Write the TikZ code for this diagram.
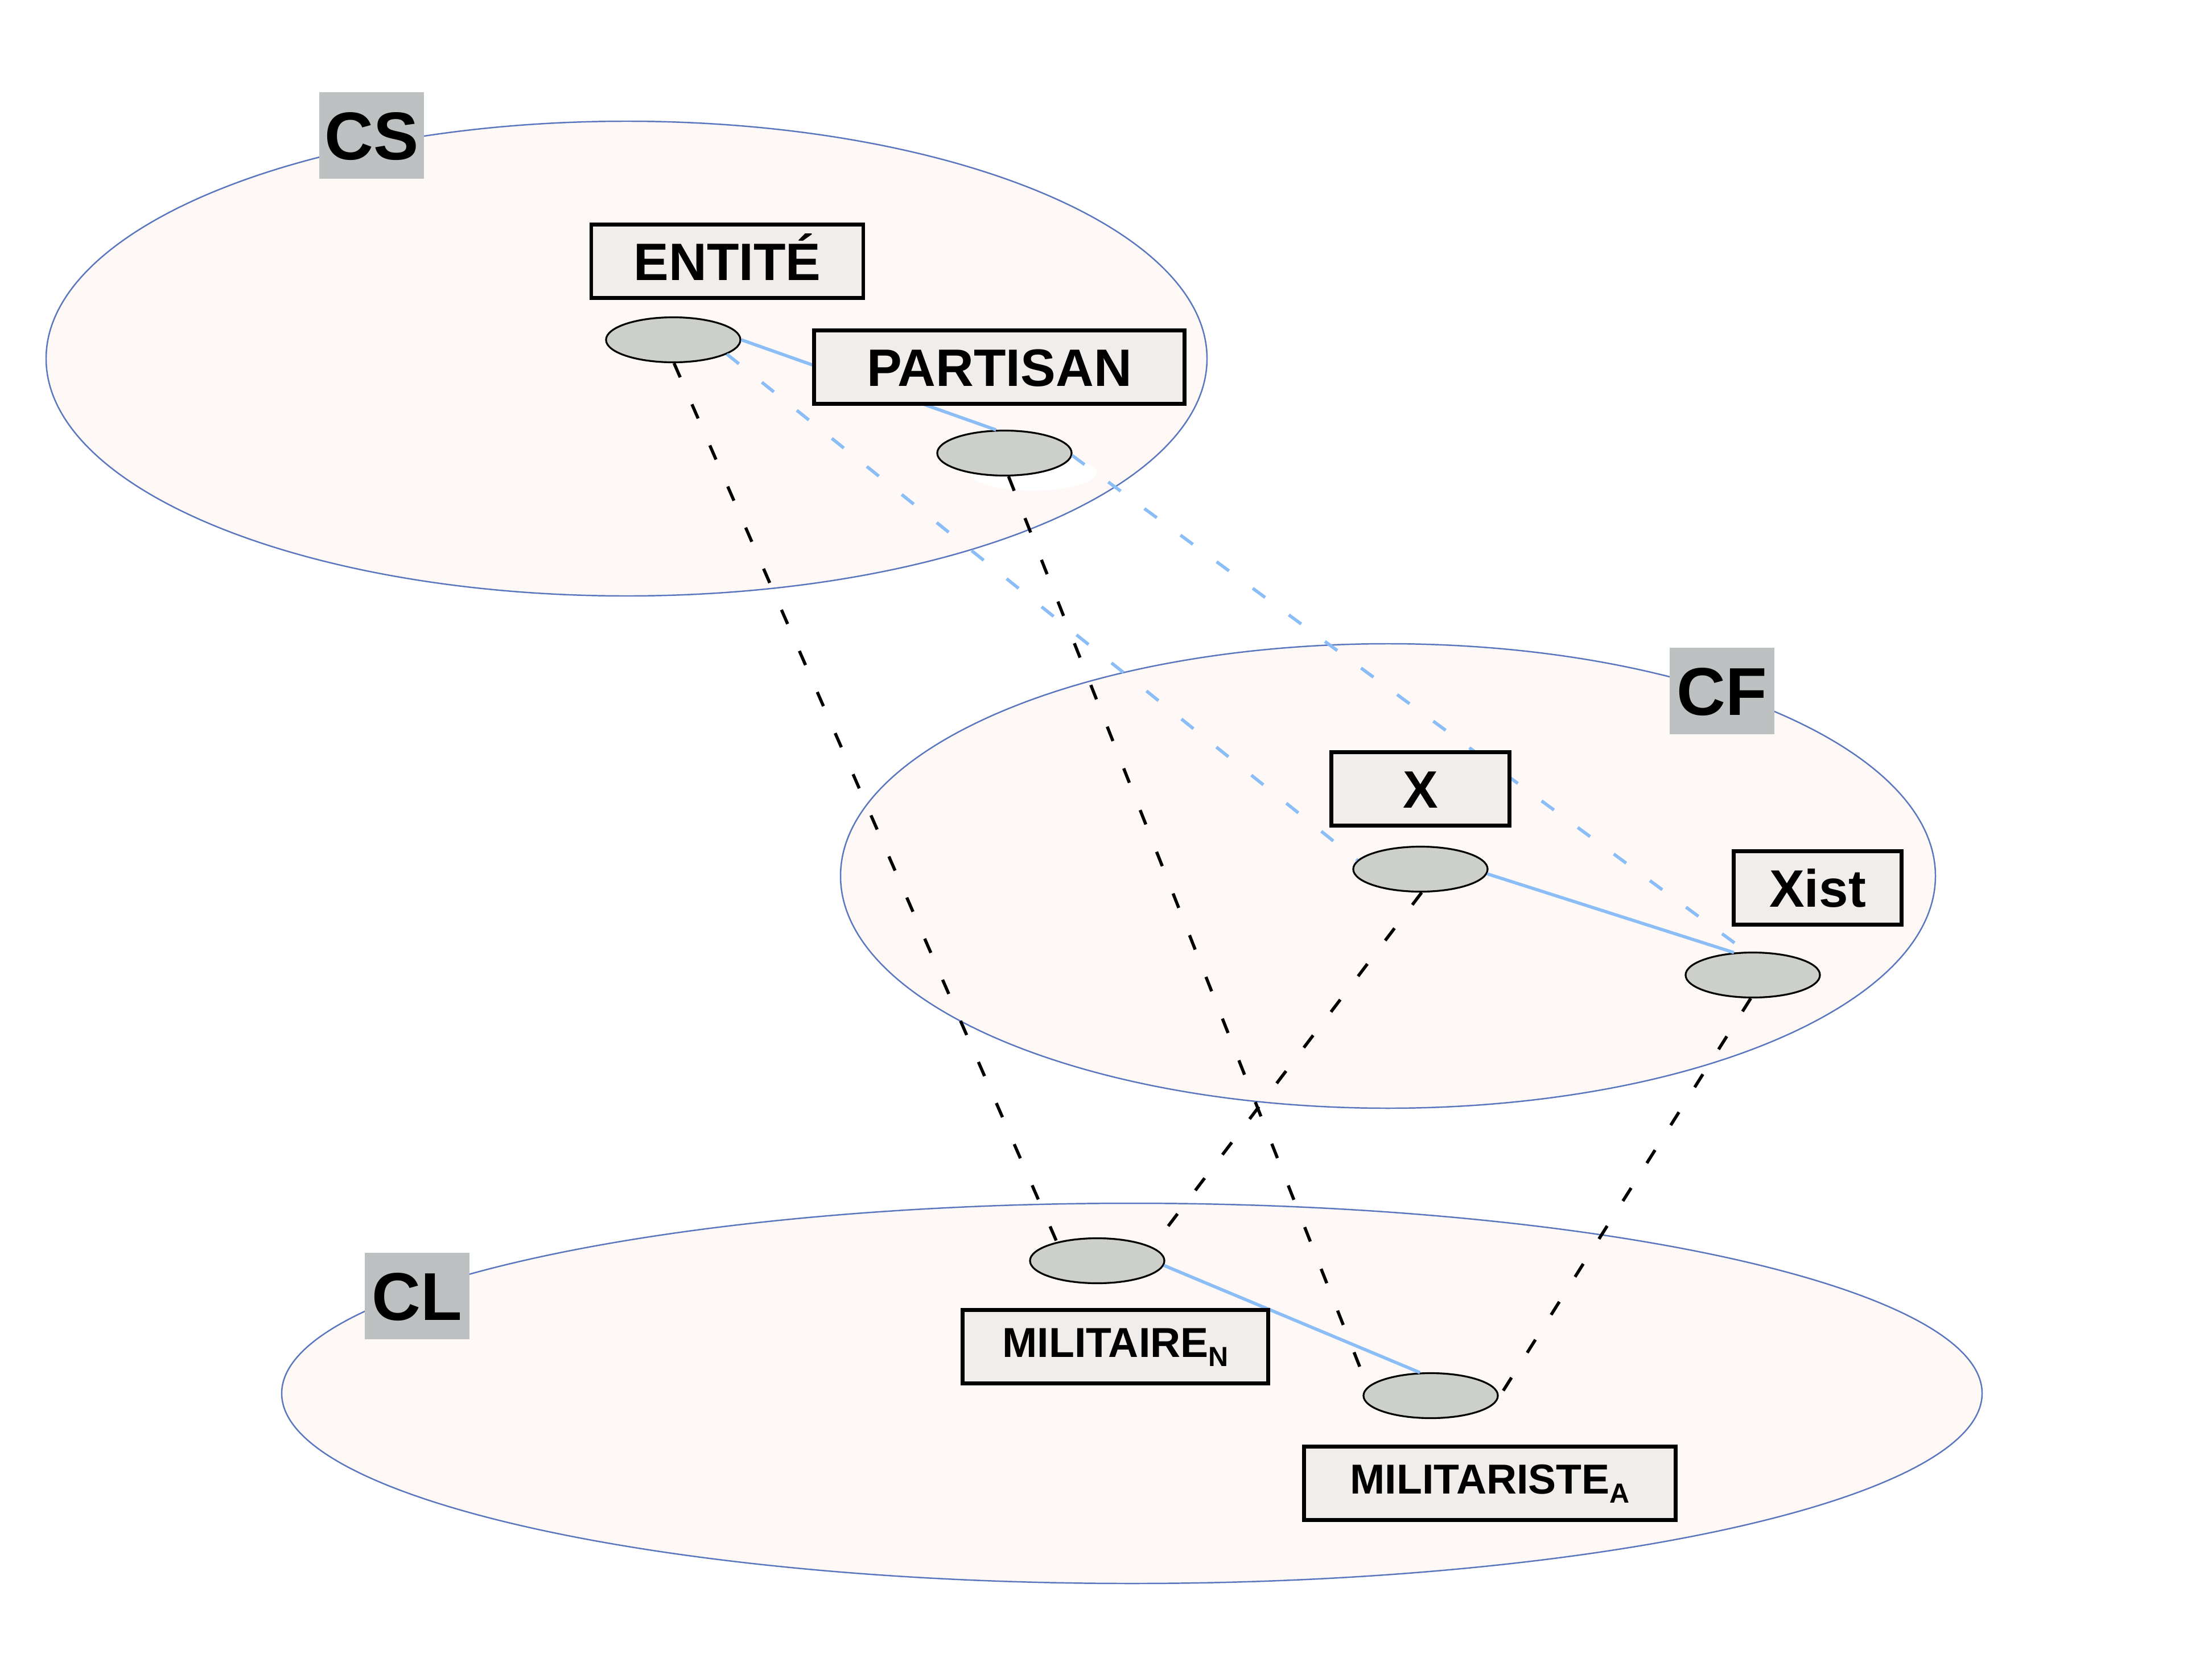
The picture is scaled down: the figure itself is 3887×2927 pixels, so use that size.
\documentclass[tikz,border=0pt]{standalone}
\usepackage{fontspec}
\setmainfont{Liberation Sans}
\usepackage{tikz}
\usetikzlibrary{shapes.geometric}
\definecolor{planeline}{RGB}{90,118,190}
\definecolor{planefill}{RGB}{254,248,246}
\definecolor{levelgrey}{RGB}{190,193,194}
\definecolor{boxfill}{RGB}{240,237,234}
\definecolor{sensefill}{RGB}{205,207,202}
\definecolor{linkblue}{RGB}{139,189,247}
\def\lexsub#1{{\fontsize{13.8}{15}\selectfont\raisebox{-4.4pt}{#1}}}
\tikzset{
	plane/.style={draw=planeline, fill=planefill, line width=0.7pt},
	level/.style={fill=levelgrey, inner sep=0pt, minimum width=1.83cm, minimum height=1.52cm, font=\bfseries\fontsize{33.8}{40}\selectfont, text height=24.2pt, text depth=0pt},
	concept/.style={draw=black, fill=boxfill, line width=1.9pt, inner sep=0pt, minimum height=1.29cm, font=\bfseries\fontsize{26.3}{31}\selectfont, text height=18.8pt, text depth=0pt},
	lexeme/.style={concept, font=\bfseries\fontsize{20.9}{25}\selectfont, text height=15pt, text depth=4.4pt},
	sense/.style={ellipse, draw=black, fill=sensefill, line width=0.9pt, inner sep=0pt, minimum width=2.36cm, minimum height=0.79cm},
	link/.style={draw=linkblue, line width=1.6pt},
	corresp/.style={draw=black, line width=1.55pt, dash pattern=on 7.7pt off 14.7pt}
}
\begin{document}
\begin{tikzpicture}[x=0.01cm, y=-0.01cm]
			%%%%% START %%%%%
			\useasboundingbox (0, 0) rectangle (3887, 2927);
			
			% the three planes
			\draw[plane] (1101, 630) ellipse [x radius=1020, y radius=417];
			\draw[plane] (2439, 1539) ellipse [x radius=962, y radius=408];
			\draw[plane] (1989, 2448) ellipse [x radius=1494, y radius=334];
			
			\node[level] (cs) at (653, 238) {CS};
			\node[level] (cf) at (3026, 1214) {CF};
			\node[level] (cl) at (733, 2277) {CL};
			
			% white spot under the partisan sense
			\fill[white] (1815, 830) ellipse [x radius=112, y radius=32];
			
			\node[sense] (entite) at (1183, 597) {};
			\node[sense] (partisan) at (1765, 796) {};
			\node[sense] (x) at (2496, 1527) {};
			\node[sense] (xist) at (3080, 1713) {};
			\node[sense] (militaire) at (1928, 2215) {};
			\node[sense] (militariste) at (2514, 2452) {};
			
			% links inside a plane
			\draw[link] (entite.east) -- (partisan.110);
			\draw[link] (x.-4) -- (xist.130);
			\draw[link] (militaire.-4) -- (militariste.115);
			
			% links between CS and CF
			\draw[link, dash pattern=on 7.7pt off 14.7pt] (entite.-15) -- (x.172);
			\draw[link, dash pattern=on 7.7pt off 14.7pt] (partisan.-2) -- (xist.105);
			
			% links down to CL
			\draw[corresp] (entite.-88) -- (militaire.155);
			\draw[corresp] (partisan.-80) -- (militariste.172);
			\draw[corresp] (x.-87) -- (militaire.14);
			\draw[corresp] (xist.-95) -- (militariste.-6);
			
			\node[concept, minimum width=4.78cm] (entitebox) at (1278, 459) {ENTITÉ};
			\node[concept, minimum width=6.50cm] (partisanbox) at (1756, 645) {PARTISAN};
			\node[concept, minimum width=3.13cm] (xbox) at (2496, 1386) {X};
			\node[concept, minimum width=2.95cm] (xistbox) at (3194, 1560) {Xist};
			\node[lexeme, minimum width=5.37cm] (militairebox) at (1960, 2366) {MILITAIRE\lexsub{N}};
			\node[lexeme, minimum width=6.52cm] (militaristebox) at (2618, 2606) {MILITARISTE\lexsub{A}};
			
			%%%%% END %%%%%
\end{tikzpicture}
\end{document}
